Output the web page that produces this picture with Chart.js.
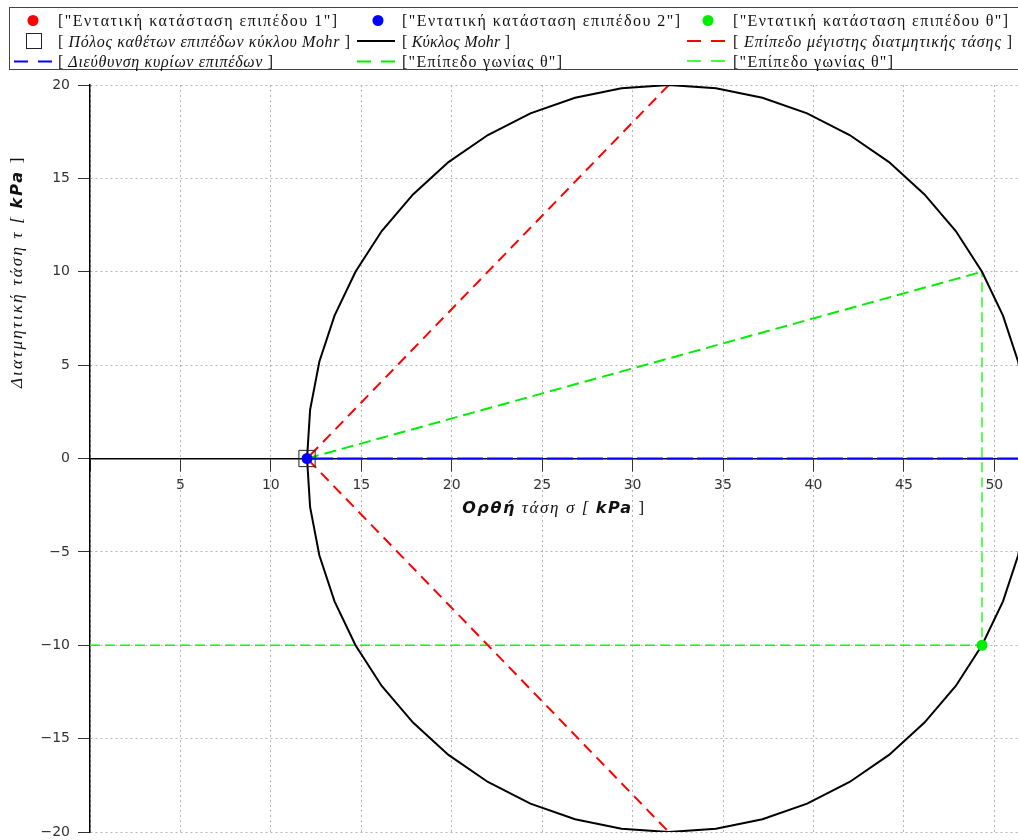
<!DOCTYPE html>
<html>
<head>
<meta charset="utf-8">
<script src="https://cdn.jsdelivr.net/npm/chart.js@4"></script>
<style>
html, body { margin: 0; padding: 0; background: #fff; overflow: hidden; }
#wrap { position: relative; width: 1018px; height: 840px; }
#legend { position: absolute; left: 0; top: 0; }
#legend text { font-family: "Liberation Serif", serif; font-size: 16px; fill: #111; }
</style>
</head>
<body>
<div id="wrap">
<canvas id="mohr" width="1018" height="840"></canvas>
<svg id="legend" width="1018" height="75">
  <rect x="9.5" y="7.5" width="1015" height="62" fill="#fff" stroke="#444" stroke-width="1"/>
  <!-- στήλη 1 -->
  <circle cx="33" cy="20.5" r="5.5" fill="#ff0000"/>
  <rect x="26.5" y="33.5" width="15" height="15" fill="none" stroke="#222" stroke-width="1"/>
  <line x1="14" y1="61.5" x2="52" y2="61.5" stroke="#0000ff" stroke-width="2" stroke-dasharray="14,10"/>
  <text x="58" y="26" textLength="279" lengthAdjust="spacing">["Εντατική κατάσταση επιπέδου 1"]</text>
  <text x="58" y="46.5" textLength="292" lengthAdjust="spacing">[<tspan font-style="italic"> Πόλος καθέτων επιπέδων κύκλου Mohr </tspan>]</text>
  <text x="58" y="66.5" textLength="215" lengthAdjust="spacing">[<tspan font-style="italic"> Διεύθυνση κυρίων επιπέδων </tspan>]</text>
  <!-- στήλη 2 -->
  <circle cx="378" cy="20.5" r="5.5" fill="#0000ff"/>
  <line x1="357" y1="41" x2="395" y2="41" stroke="#000" stroke-width="2"/>
  <line x1="357" y1="61.5" x2="395" y2="61.5" stroke="#00ee00" stroke-width="2" stroke-dasharray="14,10"/>
  <text x="402" y="26" textLength="278" lengthAdjust="spacing">["Εντατική κατάσταση επιπέδου 2"]</text>
  <text x="402" y="46.5" textLength="108" lengthAdjust="spacing">[<tspan font-style="italic"> Κύκλος Mohr </tspan>]</text>
  <text x="402" y="66.5" textLength="160" lengthAdjust="spacing">["Επίπεδο γωνίας θ"]</text>
  <!-- στήλη 3 -->
  <circle cx="708" cy="20.5" r="5.5" fill="#00ee00"/>
  <line x1="687" y1="41" x2="725" y2="41" stroke="#ff0000" stroke-width="2" stroke-dasharray="14,10"/>
  <line x1="687" y1="61" x2="725" y2="61" stroke="#00ff00" stroke-width="1.4" stroke-dasharray="14,10"/>
  <text x="733" y="26" textLength="275" lengthAdjust="spacing">["Εντατική κατάσταση επιπέδου θ"]</text>
  <text x="733" y="46.5" textLength="279" lengthAdjust="spacing">[<tspan font-style="italic"> Επίπεδο μέγιστης διατμητικής τάσης </tspan>]</text>
  <text x="733" y="66.5" textLength="160" lengthAdjust="spacing">["Επίπεδο γωνίας θ"]</text>
</svg>
</div>
<script>
// Κύκλος Mohr (κέντρο 32, ακτίνα 20 kPa) - κορυφές του πολυγώνου όπως διαβάζονται από το σχήμα
const circleSigma = [52, 51.83, 51.32, 50.48, 49.32, 47.87, 46.14, 44.18, 42.00, 39.65, 37.18, 34.61,
  32.00, 29.39, 26.82, 24.35, 22.00, 19.82, 17.86, 16.13, 14.68, 13.52, 12.68, 12.17,
  12.00, 12.17, 12.68, 13.52, 14.68, 16.13, 17.86, 19.82, 22.00, 24.35, 26.82, 29.39,
  32.00, 34.61, 37.18, 39.65, 42.00, 44.18, 46.14, 47.87, 49.32, 50.48, 51.32, 51.83, 52];
const circleTau = [0, 2.61, 5.18, 7.65, 10.00, 12.18, 14.14, 15.87, 17.32, 18.48, 19.32, 19.83,
  20.00, 19.83, 19.32, 18.48, 17.32, 15.87, 14.14, 12.18, 10.00, 7.65, 5.18, 2.61,
  0, -2.61, -5.18, -7.65, -10.00, -12.18, -14.14, -15.87, -17.32, -18.48, -19.32, -19.83,
  -20.00, -19.83, -19.32, -18.48, -17.32, -15.87, -14.14, -12.18, -10.00, -7.65, -5.18, -2.61, 0];

// εντατικές καταστάσεις 1, 2, θ
const stateSigma = [52, 12, 49.32];
const stateTau = [0, 0, -10];

// πόλος
const poleSigma = [12];
const poleTau = [0];

// επίπεδα μέγιστης διατμητικής τάσης
const maxShearSigma = [32, 12, 32];
const maxShearTau = [20, 0, -20];

// διεύθυνση κυρίων επιπέδων
const principalSigma = [12, 52];
const principalTau = [0, 0];

// επίπεδο γωνίας θ (από τον πόλο)
const thetaSigma = [12, 49.32];
const thetaTau = [0, 10];

// βοηθητικές γραμμές γωνίας θ
const projSigma = [0, 49.32, 49.32];
const projTau = [-10, -10, 10];

const xRange = [0, 51.31];
const yRange = [-20, 20];
const tickStep = 5;

function pts(xs, ys) {
  return xs.map((x, i) => ({ x: x, y: ys[i] }));
}

function lineSet(label, xs, ys, color, width, dash) {
  return {
    label: label,
    data: pts(xs, ys),
    showLine: true,
    borderColor: color,
    borderWidth: width,
    borderDash: dash,
    pointRadius: 0,
    fill: false,
    tension: 0
  };
}

// τίτλοι αξόνων σε κομμάτια (ελληνικά πλάγια + kPa)
function drawRuns(ctx, runs, spacing) {
  let total = 0;
  ctx.letterSpacing = spacing;
  runs.forEach(r => { ctx.font = r[1]; total += ctx.measureText(r[0]).width; });
  let x = -total / 2;
  runs.forEach(r => {
    ctx.font = r[1];
    ctx.fillText(r[0], x, 0);
    x += ctx.measureText(r[0]).width;
  });
  ctx.letterSpacing = '0px';
}

const serifIt = 'italic 17px "Liberation Serif"';
const sansBoldIt = 'bold italic 16px "DejaVu Sans"';
const serifUp = '17px "Liberation Serif"';

const axisTitles = {
  id: 'axisTitles',
  afterDraw(chart) {
    const ctx = chart.ctx;
    const area = chart.chartArea;
    const ys = chart.scales.y;
    ctx.save();
    ctx.fillStyle = '#111';
    ctx.textBaseline = 'middle';
    ctx.textAlign = 'left';
    ctx.translate((area.left + area.right) / 2, ys.getPixelForValue(0) + 50);
    drawRuns(ctx, [['Ορθή', sansBoldIt], [' τάση σ [ ', serifIt], ['kPa', sansBoldIt], [' ]', serifUp]], '1.6px');
    ctx.restore();

    ctx.save();
    ctx.fillStyle = '#111';
    ctx.textBaseline = 'middle';
    ctx.textAlign = 'left';
    ctx.translate(18, ys.getPixelForValue(10));
    ctx.rotate(-Math.PI / 2);
    drawRuns(ctx, [['Διατμητική τάση τ [ ', serifIt], ['kPa', sansBoldIt], [' ]', serifUp]], '2.2px');
    ctx.restore();
  }
};

const gridStyle = { color: '#b4b4b4', tickColor: '#333', tickBorderDash: [], tickLength: 12 };
const borderStyle = { display: true, color: '#000', width: 1.5, dash: [2, 3] };

const ctx = document.getElementById('mohr').getContext('2d');

new Chart(ctx, {
  type: 'scatter',
  data: {
    datasets: [
      { label: 'Εντατική κατάσταση επιπέδου 1', data: pts(stateSigma.slice(0, 1), stateTau.slice(0, 1)), pointRadius: 5.5, backgroundColor: '#ff0000', borderWidth: 0 },
      { label: 'Εντατική κατάσταση επιπέδου 2', data: pts(stateSigma.slice(1, 2), stateTau.slice(1, 2)), pointRadius: 5.5, backgroundColor: '#0000ff', borderWidth: 0 },
      { label: 'Εντατική κατάσταση επιπέδου θ', data: pts(stateSigma.slice(2, 3), stateTau.slice(2, 3)), pointRadius: 5.5, backgroundColor: '#00ee00', borderWidth: 0 },
      { label: 'Πόλος καθέτων επιπέδων κύκλου Mohr', data: pts(poleSigma, poleTau), pointStyle: 'rect', pointRadius: 11.5, backgroundColor: 'rgba(0,0,0,0)', borderColor: '#222', borderWidth: 1 },
      lineSet('Κύκλος Mohr', circleSigma, circleTau, '#000000', 2, []),
      lineSet('Επίπεδο μέγιστης διατμητικής τάσης', maxShearSigma, maxShearTau, '#ff0000', 2, [11, 7]),
      lineSet('Διεύθυνση κυρίων επιπέδων', principalSigma, principalTau, '#0000ff', 2, [26, 4]),
      lineSet('Επίπεδο γωνίας θ', thetaSigma, thetaTau, '#00ee00', 2, [12, 6]),
      lineSet('Επίπεδο γωνίας θ ', projSigma, projTau, '#00ff00', 1.3, [10, 5])
    ]
  },
  options: {
    responsive: false,
    animation: false,
    events: [],
    layout: { autoPadding: false, padding: { top: 85, bottom: 8, left: 0, right: 0 } },
    plugins: {
      legend: { display: false },
      tooltip: { enabled: false }
    },
    scales: {
      x: {
        type: 'linear',
        position: { y: 0 },
        min: xRange[0],
        max: xRange[1],
        afterFit: s => { s.paddingLeft = 0; s.paddingRight = 0; },
        border: borderStyle,
        grid: gridStyle,
        ticks: {
          stepSize: tickStep,
          includeBounds: false,
          maxRotation: 0,
          padding: 6,
          color: '#333',
          font: { family: 'DejaVu Sans', size: 14 },
          callback: v => (v === 0 ? '' : String(v))
        }
      },
      y: {
        type: 'linear',
        position: 'left',
        min: yRange[0],
        max: yRange[1],
        afterFit: s => { s.width = 90; s.paddingTop = 0; s.paddingBottom = 0; },
        border: borderStyle,
        grid: gridStyle,
        ticks: {
          stepSize: tickStep,
          padding: 8,
          color: '#333',
          font: { family: 'DejaVu Sans', size: 14 },
          callback: v => (v < 0 ? '\u2212' + Math.abs(v) : String(v))
        }
      }
    }
  },
  plugins: [axisTitles]
});
</script>
</body>
</html>
